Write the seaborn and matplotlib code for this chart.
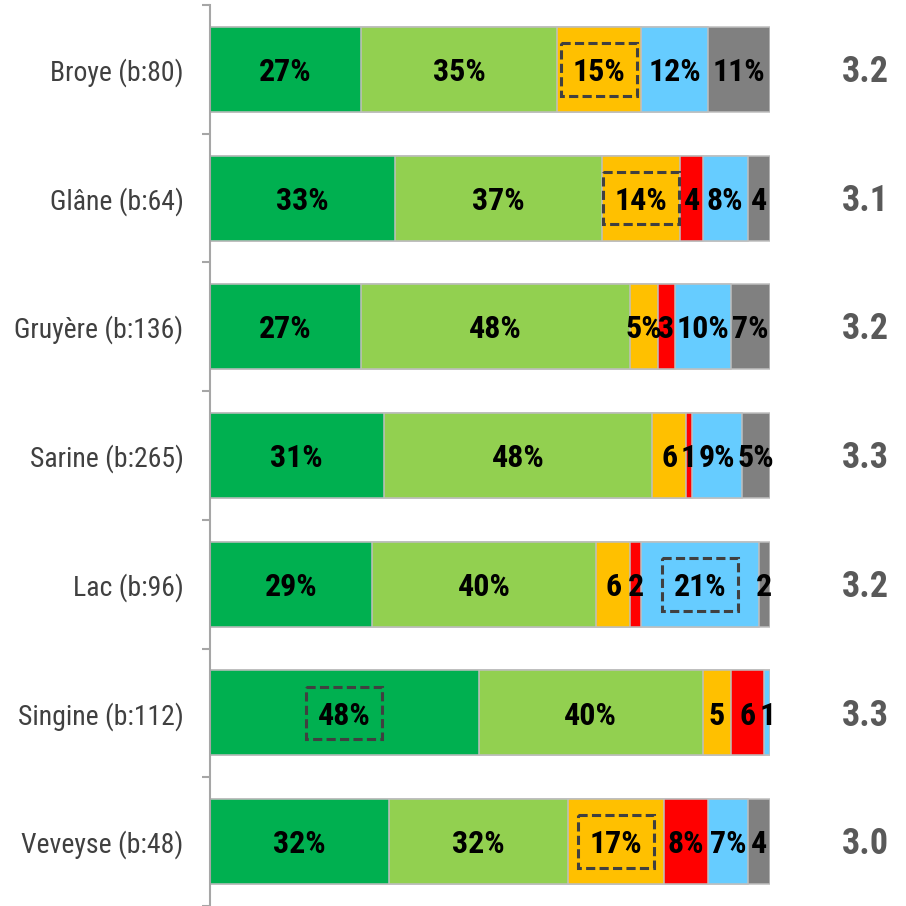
import numpy as np
import pandas as pd
import matplotlib
matplotlib.use("Agg")
import matplotlib.pyplot as plt
from matplotlib.patches import Rectangle
import seaborn as sns

# Données (pourcentages par district)
districts = ["Broye (b:80)", "Glâne (b:64)", "Gruyère (b:136)", "Sarine (b:265)",
             "Lac (b:96)", "Singine (b:112)", "Veveyse (b:48)"]
seg1 = [27, 33, 27, 31, 29, 48, 32]
seg2 = [35, 37, 48, 48, 40, 40, 32]
seg3 = [15, 14, 5, 6, 6, 5, 17]
seg4 = [0, 4, 3, 1, 2, 6, 8]
seg5 = [12, 8, 10, 9, 21, 1, 7]
seg6 = [11, 4, 7, 5, 2, 0, 4]
moyennes = [3.2, 3.1, 3.2, 3.3, 3.2, 3.3, 3.0]

# étiquettes avec ou sans signe %
avec_pct = [
    [1, 1, 1, 1, 1, 1],
    [1, 1, 1, 0, 1, 0],
    [1, 1, 1, 0, 1, 1],
    [1, 1, 0, 0, 1, 1],
    [1, 1, 0, 0, 1, 0],
    [1, 1, 0, 0, 0, 0],
    [1, 1, 1, 1, 1, 0],
]
# segment encadré (indice) pour chaque district
encadre = [2, 2, None, None, 4, 0, 2]

couleurs = ["#00B050", "#92D050", "#FFC000", "#FF0000", "#66CCFF", "#808080"]

segments = [seg1, seg2, seg3, seg4, seg5, seg6]
df = pd.DataFrame({"district": districts})
cum = np.cumsum(np.array(segments), axis=0)
for i in range(len(segments)):
    df[f"c{i}"] = cum[i]

sns.set_style("white")
plt.rcParams["font.family"] = ["Roboto Condensed", "Liberation Sans", "DejaVu Sans"]

fig = plt.figure(figsize=(9.06, 9.06), dpi=100)
ax = fig.add_axes([210 / 906, 0, 560 / 906, 901 / 906])

# barres empilées : on dessine les cumuls du plus long au plus court
for i in reversed(range(len(segments))):
    sns.barplot(data=df, x=f"c{i}", y="district", order=districts, orient="h",
                color=couleurs[i], saturation=1, width=0.66,
                edgecolor="#BFBFBF", linewidth=1.1, ax=ax)

ax.set_xlim(0, 100)
ax.set_ylim(len(districts) - 0.5, -0.5)

# étiquettes des segments
for r in range(len(districts)):
    gauche = 0
    for i, s in enumerate(segments):
        v = s[r]
        if v > 0:
            xc = gauche + v / 2
            txt = f"{v}%" if avec_pct[r][i] else f"{v}"
            ax.text(xc, r + 0.02, txt, ha="center", va="center", fontsize=23,
                    fontweight="bold", color="black", zorder=5)
            if encadre[r] == i:
                ax.add_patch(Rectangle((xc - 6.8, r - 0.205), 13.6, 0.41,
                                       fill=False, edgecolor="#404040",
                                       linewidth=2.2, linestyle=(0, (3, 1.4)),
                                       zorder=4))
        gauche += v
    ax.text(117.1, r + 0.02, f"{moyennes[r]:.1f}", ha="center", va="center",
            fontsize=26, fontweight="bold", color="#595959", clip_on=False)

# axe vertical avec graduations entre les catégories
for side in ["top", "right", "bottom"]:
    ax.spines[side].set_visible(False)
ax.spines["left"].set_color("#A6A6A6")
ax.spines["left"].set_linewidth(1.5)
ax.set_xlabel("")
ax.set_ylabel("")
ax.set_xticks([])
ax.set_yticks(range(len(districts)))
ax.set_yticklabels(districts, fontsize=20, color="#404040")
ax.tick_params(axis="y", which="major", left=False, length=0, pad=19)
ax.set_yticks(np.arange(-0.5, len(districts), 1), minor=True)
ax.tick_params(axis="y", which="minor", left=True, length=6, width=1.5,
               color="#A6A6A6")

fig.savefig("out.png", dpi=100)
